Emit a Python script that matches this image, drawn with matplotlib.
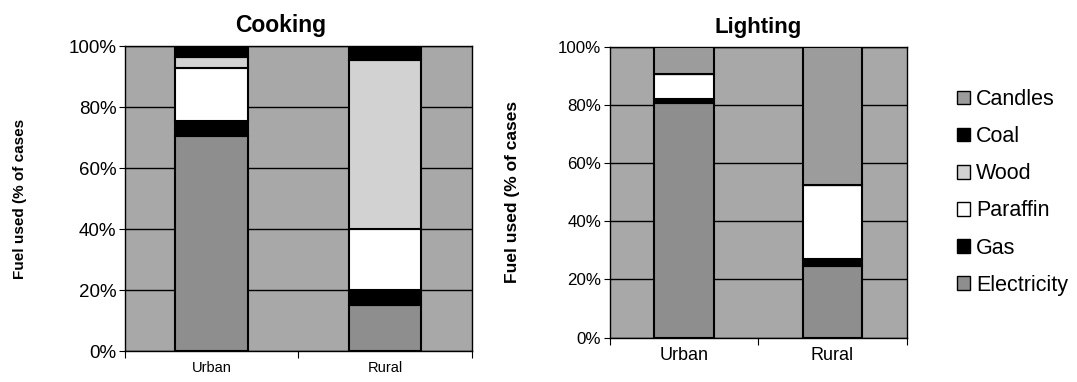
import matplotlib.pyplot as plt
from matplotlib.patches import Patch
from matplotlib.ticker import PercentFormatter

plt.rcParams['font.family'] = ['Liberation Sans', 'DejaVu Sans']

categories = ['Urban', 'Rural']
fuels = ['Electricity', 'Gas', 'Paraffin', 'Wood', 'Coal', 'Candles']

# cooking fuel, % of cases (urban, rural)
cook_electricity = [70.5, 15]
cook_gas = [5, 5]
cook_paraffin = [17.5, 20]
cook_wood = [3.5, 55.5]
cook_coal = [3.5, 4.5]
cook_candles = [0, 0]

# lighting fuel, % of cases (urban, rural)
light_electricity = [80.5, 24.5]
light_gas = [1.5, 2.5]
light_paraffin = [8.5, 25.5]
light_wood = [0, 0]
light_coal = [0, 0]
light_candles = [9.5, 47.5]

colours = {'Electricity': '#8e8e8e', 'Gas': 'black', 'Paraffin': 'white',
           'Wood': '#d2d2d2', 'Coal': 'black', 'Candles': '#9c9c9c'}
bg = '#a8a8a8'


def stacked(ax, series, width):
    x = list(range(len(categories)))
    bottom = [0] * len(categories)
    for name, vals in zip(fuels, series):
        ax.bar(x, vals, width, bottom=bottom, color=colours[name],
               edgecolor='black', linewidth=1.5, zorder=3)
        bottom = [b + v for b, v in zip(bottom, vals)]
    ax.set_facecolor(bg)
    ax.set_xlim(-0.5, 1.5)
    ax.set_ylim(0, 100)
    ax.set_yticks([0, 20, 40, 60, 80, 100])
    ax.yaxis.set_major_formatter(PercentFormatter(decimals=0))
    ax.grid(axis='y', color='black', linewidth=1.0, zorder=1)
    ax.set_axisbelow(True)
    # category boundaries as ticks, names as minor ticks
    ax.set_xticks([-0.5, 0.5, 1.5])
    ax.set_xticklabels([])
    ax.set_xticks([0, 1], minor=True)
    ax.set_xticklabels(categories, minor=True)
    ax.tick_params(axis='x', which='major', direction='out', length=5, color='black')
    ax.tick_params(axis='x', which='minor', length=0, pad=7)
    ax.tick_params(axis='y', direction='out', length=4, pad=2)
    for s in ax.spines.values():
        s.set_color('black')
        s.set_linewidth(1.0)


fig = plt.figure(figsize=(10.77, 3.82), dpi=100)

ax1 = fig.add_axes([0.116, 0.081, 0.322, 0.798])
stacked(ax1, [cook_electricity, cook_gas, cook_paraffin, cook_wood, cook_coal, cook_candles], 0.42)
ax1.tick_params(axis='y', labelsize=13.5)
ax1.tick_params(axis='x', which='minor', labelsize=10.5)
ax1.set_title('Cooking', fontsize=16.5, fontweight='bold', pad=10, x=0.45)
ax1.set_ylabel('Fuel used (% of cases', fontsize=11, fontweight='bold', labelpad=30)

ax2 = fig.add_axes([0.566, 0.116, 0.276, 0.762])
stacked(ax2, [light_electricity, light_gas, light_paraffin, light_wood, light_coal, light_candles], 0.40)
ax2.tick_params(axis='y', labelsize=12.2)
ax2.tick_params(axis='x', which='minor', labelsize=13)
ax2.set_title('Lighting', fontsize=16, fontweight='bold', pad=10)
ax2.set_ylabel('Fuel used (% of cases', fontsize=12.5, fontweight='bold', labelpad=27)

handles = [Patch(facecolor=colours[f], edgecolor='black', linewidth=1.0, label=f)
           for f in reversed(fuels)]
fig.legend(handles=handles, loc='upper left', bbox_to_anchor=(0.889, 0.767),
           frameon=False, fontsize=15.5, handlelength=0.6, handleheight=0.6,
           handletextpad=0.25, labelspacing=0.75, borderpad=0, borderaxespad=0)

fig.savefig('out.png', dpi=100)
